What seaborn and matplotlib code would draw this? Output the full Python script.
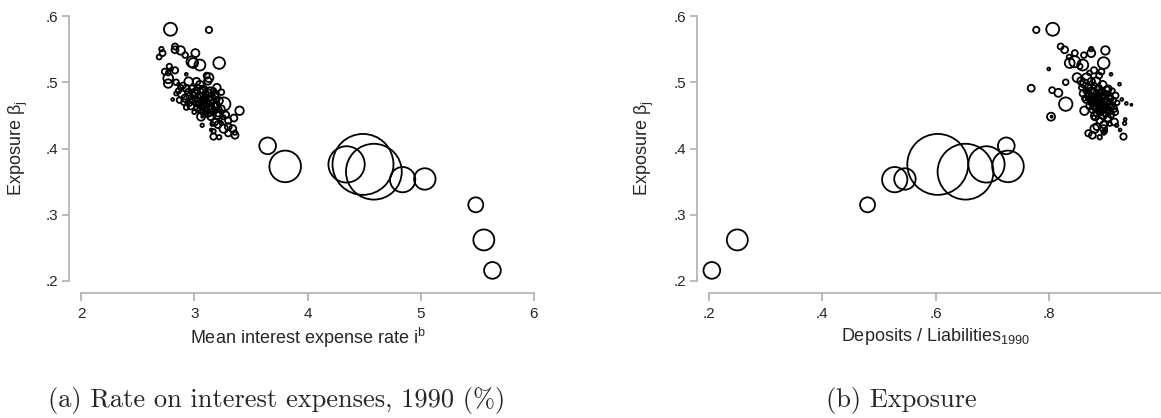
import matplotlib
matplotlib.use("Agg")
import matplotlib.pyplot as plt
import seaborn as sns
import pandas as pd

# ---- data: one entry per bank ----
exposure = [
    .580, .579, .554, .550, .549, .548, .544, .544, .541, .538,
    .531, .529, .529, .526, .524, .520, .518, .516, .514, .510,
    .507, .506, .502, .501, .501, .500, .498, .496, .495, .492,
    .491, .490, .489, .488, .487, .486, .485, .484, .483, .482,
    .481, .480, .479, .478, .477, .476, .475, .474, .473, .472,
    .471, .470, .469, .467, .468, .466, .465, .464, .463, .462,
    .461, .460, .459, .458, .457, .456, .455, .454, .452, .451,
    .450, .449, .448, .448, .447, .446, .444, .442, .440, .438,
    .437, .436, .435, .433, .430, .430, .428, .426, .424, .423,
    .420, .418, .417, .492, .487, .483, .479, .476, .473, .470,
    .466, .462, .459, .455, .453, .470, .485, .497, .512, .474,
    .489, .484, .481, .478, .475, .472, .469, .466, .463, .460,
    .457, .487, .474, .492, .468,
    .404, .373, .376, .376, .365, .353, .354, .315, .262, .216,
]
interest_rate = [
    2.79, 3.13, 2.83, 2.71, 2.83, 2.88, 3.01, 2.72, 2.92, 2.69,
    2.98, 2.99, 3.22, 3.05, 2.78, 2.80, 2.83, 2.74, 2.77, 3.11,
    3.13, 2.77, 3.12, 2.95, 3.02, 2.84, 2.77, 3.05, 2.90, 3.20,
    2.93, 2.98, 3.08, 3.02, 2.86, 3.14, 2.95, 3.00, 3.10, 2.89,
    3.18, 3.05, 2.96, 3.12, 3.03, 2.92, 3.16, 3.08, 2.98, 3.22,
    3.04, 3.11, 2.94, 3.26, 3.00, 3.14, 3.07, 2.97, 3.19, 3.10,
    3.03, 3.24, 3.13, 3.05, 3.40, 3.17, 3.08, 3.21, 3.12, 3.28,
    3.20, 3.15, 3.06, 3.07, 3.26, 3.35, 3.23, 3.30, 3.18, 3.24,
    3.16, 3.21, 3.07, 3.30, 3.26, 3.34, 3.15, 3.17, 3.36, 3.30,
    3.36, 3.17, 3.22, 2.88, 3.06, 2.84, 3.19, 3.09, 2.87, 3.16,
    3.04, 2.93, 3.22, 3.00, 3.14, 2.91, 3.24, 2.86, 2.93, 2.81,
    3.07, 3.13, 2.99, 3.06, 3.01, 3.14, 3.09, 3.20, 3.06, 3.15,
    3.10, 3.17, 3.20, 3.03, 2.96,
    3.648, 3.803, 4.345, 4.49, 4.586, 4.84, 5.036, 5.486, 5.557, 5.633,
]
deposit_share = [
    .807, .778, .821, .875, .828, .900, .875, .846, .862, .836,
    .846, .837, .897, .860, .855, .800, .880, .893, .872, .889,
    .850, .867, .857, .884, .875, .830, .863, .895, .880, .870,
    .769, .905, .888, .806, .912, .876, .893, .817, .860, .899,
    .884, .918, .870, .892, .906, .881, .897, .866, .914, .888,
    .902, .878, .921, .830, .937, .946, .894, .872, .908, .886,
    .899, .915, .878, .906, .863, .892, .917, .885, .900, .910,
    .896, .882, .804, .805, .880, .904, .935, .890, .916, .934,
    .908, .897, .920, .885, .881, .897, .926, .899, .897, .870,
    .877, .932, .890, .858, .870, .904, .885, .863, .893, .905,
    .887, .879, .896, .911, .889, .874, .879, .925, .910, .929,
    .902, .889, .897, .876, .909, .883, .893, .900, .912, .890,
    .903, .866, .872, .888, .881,
    .725, .728, .690, .604, .653, .528, .546, .480, .250, .205,
]
assets = [
    42, 10, 9, 5, 12, 18, 16, 9, 8, 6,
    30, 24, 34, 30, 7, 2, 10, 9, 6, 9,
    20, 24, 14, 18, 14, 8, 18, 16, 9, 14,
    12, 12, 16, 9, 7, 18, 12, 16, 10, 14,
    16, 9, 12, 20, 12, 14, 16, 12, 7, 14,
    16, 11, 5, 45, 2, 1, 14, 11, 12, 16,
    10, 11, 14, 9, 18, 12, 10, 14, 8, 10,
    14, 18, 16, 1, 4, 12, 2, 10, 12, 3,
    4, 12, 3, 12, 18, 12, 2, 5, 5, 10,
    12, 10, 5, 7, 6, 4, 7, 6, 8, 4,
    7, 6, 7, 4, 6, 9, 8, 2, 2, 2,
    10, 12, 8, 14, 9, 12, 10, 9, 8, 12,
    7, 8, 7, 9, 6,
    70, 250, 330, 930, 780, 160, 115, 56, 110, 70,
]

y_ticks = [.2, .3, .4, .5, .6]
y_tick_labels = [".2", ".3", ".4", ".5", ".6"]
x_ticks_a = [2, 3, 4, 5, 6]
x_tick_labels_a = ["2", "3", "4", "5", "6"]
x_ticks_b = [.2, .4, .6, .8, 1.0]
x_tick_labels_b = [".2", ".4", ".6", ".8", ""]

df = pd.DataFrame({
    "exposure": exposure,
    "rate": interest_rate,
    "deposits": deposit_share,
    "assets": assets,
})

sns.set_style("white")
plt.rcParams["font.family"] = ["Liberation Sans", "DejaVu Sans"]
plt.rcParams["mathtext.default"] = "regular"

W, H = 1161, 418
fig = plt.figure(figsize=(W / 100, H / 100), dpi=100)
axA = fig.add_axes([81 / W, 137 / H, 453 / W, 265 / H])
axB = fig.add_axes([709 / W, 137 / H, 453 / W, 265 / H])

grey = "#a8a8a8"
panels = [
    (axA, "rate", (2, 6), x_ticks_a, x_tick_labels_a,
     "Mean interest expense rate i$^{\\mathregular{b}}$", -0.112),
    (axB, "deposits", (.2, 1.0), x_ticks_b, x_tick_labels_b,
     "Deposits / Liabilities$_{\\mathregular{1990}}$", -0.117),
]
for ax, xcol, xlim, xt, xtl, xlabel, ylx in panels:
    sns.scatterplot(data=df, x=xcol, y="exposure", size="assets",
                    sizes=(0, 2070), size_norm=(0, 1000), color="black",
                    legend=False, ax=ax, clip_on=False)
    coll = ax.collections[0]
    coll.set_facecolor("none")
    coll.set_edgecolor("black")
    coll.set_linewidth(1.3)
    ax.set_xlim(*xlim)
    ax.set_ylim(.2, .6)
    ax.set_xticks(xt)
    ax.set_xticklabels(xtl)
    ax.set_yticks(y_ticks)
    ax.set_yticklabels(y_tick_labels)
    for s in ("top", "right"):
        ax.spines[s].set_visible(False)
    for s in ("left", "bottom"):
        ax.spines[s].set_position(("outward", 8.6))
        ax.spines[s].set_color(grey)
        ax.spines[s].set_linewidth(1.1)
    ax.tick_params(axis="y", length=5, width=1.1, color=grey,
                   labelsize=11, pad=3, left=True)
    ax.tick_params(axis="x", length=6, width=1.1, color=grey,
                   labelsize=11, pad=4, bottom=True)
    ax.set_xlabel(xlabel, fontsize=13)
    ax.set_ylabel("Exposure β$_{\\mathregular{j}}$", fontsize=13)
    ax.xaxis.set_label_coords(0.5, -0.17)
    ax.yaxis.set_label_coords(ylx, 0.5)
    ax.patch.set_alpha(0)

fig.text(277 / W, 18 / H, "(a) Rate on interest expenses, 1990 (%)",
         family=["cmr10", "DejaVu Serif"], fontsize=19, ha="center", va="center")
fig.text(901 / W, 18 / H, "(b) Exposure",
         family=["cmr10", "DejaVu Serif"], fontsize=19, ha="center", va="center")

fig.savefig("out.png", dpi=100)
